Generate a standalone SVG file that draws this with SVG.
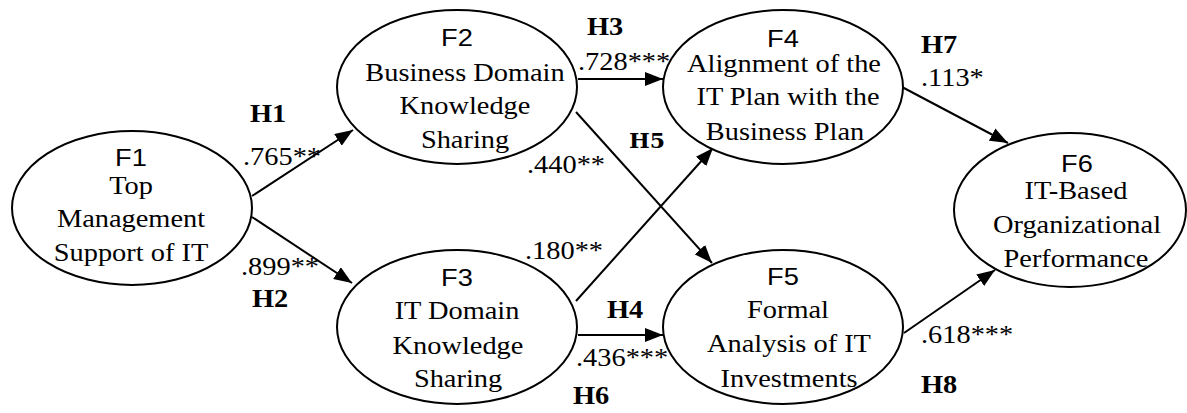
<svg xmlns="http://www.w3.org/2000/svg" width="1187" height="413" viewBox="0 0 1187 413">
<style>
  .node ellipse { fill: #fff; stroke: #000; stroke-width: 2; }
  .f { font-family: "Liberation Sans", Arial, sans-serif; font-size: 24px; text-anchor: middle; fill: #000; }
  .t { font-family: "Liberation Serif", "Times New Roman", serif; font-size: 25px; text-anchor: middle; fill: #000; }
  .n { font-family: "Liberation Serif", "Times New Roman", serif; font-size: 25px; fill: #000; }
  .h { font-family: "Liberation Serif", "Times New Roman", serif; font-size: 25px; font-weight: bold; fill: #000; }
  .hm { font-family: "DejaVu Serif", serif; font-size: 20px; font-weight: bold; fill: #000; }
  .edges path { fill: none; stroke: #000; stroke-width: 2; marker-end: url(#arr); }
</style>
<defs>
  <marker id="arr" markerUnits="userSpaceOnUse" markerWidth="18" markerHeight="14" refX="18" refY="7" orient="auto">
    <path d="M0,0 L18,7 L0,14 z" fill="#000"/>
  </marker>
</defs>
<rect width="1187" height="413" fill="#fff"/>

<g id="connectors" class="edges">
  <path d="M252,196 L353,130"/>
  <path d="M252,217 L352,283"/>
  <path d="M578,79 L663,79"/>
  <path d="M576,112 L712,263"/>
  <path d="M576,301 L713,148"/>
  <path d="M578,335 L663,335"/>
  <path d="M902,87 L1008,143"/>
  <path d="M904,333 L995,270"/>
</g>

<g id="F1" class="node">
  <ellipse cx="132" cy="208" rx="120" ry="77"/>
  <text class="f" transform="translate(131 166) scale(1.135 1)">F1</text>
  <text class="t" transform="translate(131 194) scale(1.135 1)">Top</text>
  <text class="t" transform="translate(131 227) scale(1.135 1)">Management</text>
  <text class="t" transform="translate(131 261) scale(1.135 1)">Support of IT</text>
</g>

<g id="F2" class="node">
  <ellipse cx="457" cy="87" rx="120" ry="77"/>
  <text class="f" transform="translate(457 46) scale(1.135 1)">F2</text>
  <text class="t" transform="translate(465 81) scale(1.135 1)">Business Domain</text>
  <text class="t" transform="translate(465 114) scale(1.135 1)">Knowledge</text>
  <text class="t" transform="translate(465 148) scale(1.135 1)">Sharing</text>
</g>

<g id="F3" class="node">
  <ellipse cx="457" cy="327" rx="120" ry="77"/>
  <text class="f" transform="translate(457 286) scale(1.135 1)">F3</text>
  <text class="t" transform="translate(457 319) scale(1.135 1)">IT Domain</text>
  <text class="t" transform="translate(458 354) scale(1.135 1)">Knowledge</text>
  <text class="t" transform="translate(458 387) scale(1.135 1)">Sharing</text>
</g>

<g id="F4" class="node">
  <ellipse cx="783" cy="87" rx="120" ry="77"/>
  <text class="f" transform="translate(783 47) scale(1.135 1)">F4</text>
  <text class="t" transform="translate(784 72) scale(1.135 1)">Alignment of the</text>
  <text class="t" transform="translate(788 105) scale(1.135 1)">IT Plan with the</text>
  <text class="t" transform="translate(785 140) scale(1.135 1)">Business Plan</text>
</g>

<g id="F5" class="node">
  <ellipse cx="783" cy="327" rx="120" ry="77"/>
  <text class="f" transform="translate(783 285) scale(1.135 1)">F5</text>
  <text class="t" transform="translate(788 318) scale(1.135 1)">Formal</text>
  <text class="t" transform="translate(789 352) scale(1.135 1)">Analysis of IT</text>
  <text class="t" transform="translate(789 387) scale(1.135 1)">Investments</text>
</g>

<g id="F6" class="node">
  <ellipse cx="1070" cy="210" rx="116" ry="77"/>
  <text class="f" transform="translate(1077 172) scale(1.135 1)">F6</text>
  <text class="t" transform="translate(1076 199) scale(1.135 1)">IT-Based</text>
  <text class="t" transform="translate(1077 233) scale(1.135 1)">Organizational</text>
  <text class="t" transform="translate(1076 267) scale(1.135 1)">Performance</text>
</g>

<g id="labels">
  <text class="h" transform="translate(250 122) scale(1.135 1)">H1</text>
  <text class="n" transform="translate(243 165) scale(1.135 1)">.765**</text>
  <text class="n" transform="translate(241 275) scale(1.135 1)">.899**</text>
  <text class="h" transform="translate(252 307) scale(1.135 1)">H2</text>
  <text class="h" transform="translate(587 35) scale(1.135 1)">H3</text>
  <text class="n" transform="translate(578 70) scale(1.135 1)">.728***</text>
  <text class="hm" transform="translate(629 148) scale(1.1 1)">H5</text>
  <text class="n" transform="translate(527 173) scale(1.135 1)">.440**</text>
  <text class="n" transform="translate(525 259) scale(1.135 1)">.180**</text>
  <text class="h" transform="translate(607 318) scale(1.135 1)">H4</text>
  <text class="n" transform="translate(576 366) scale(1.135 1)">.436***</text>
  <text class="h" transform="translate(573 404) scale(1.135 1)">H6</text>
  <text class="h" transform="translate(921 53) scale(1.135 1)">H7</text>
  <text class="n" transform="translate(921 86) scale(1.135 1)">.113*</text>
  <text class="n" transform="translate(921 343) scale(1.135 1)">.618***</text>
  <text class="h" transform="translate(921 393) scale(1.135 1)">H8</text>
</g>
</svg>
